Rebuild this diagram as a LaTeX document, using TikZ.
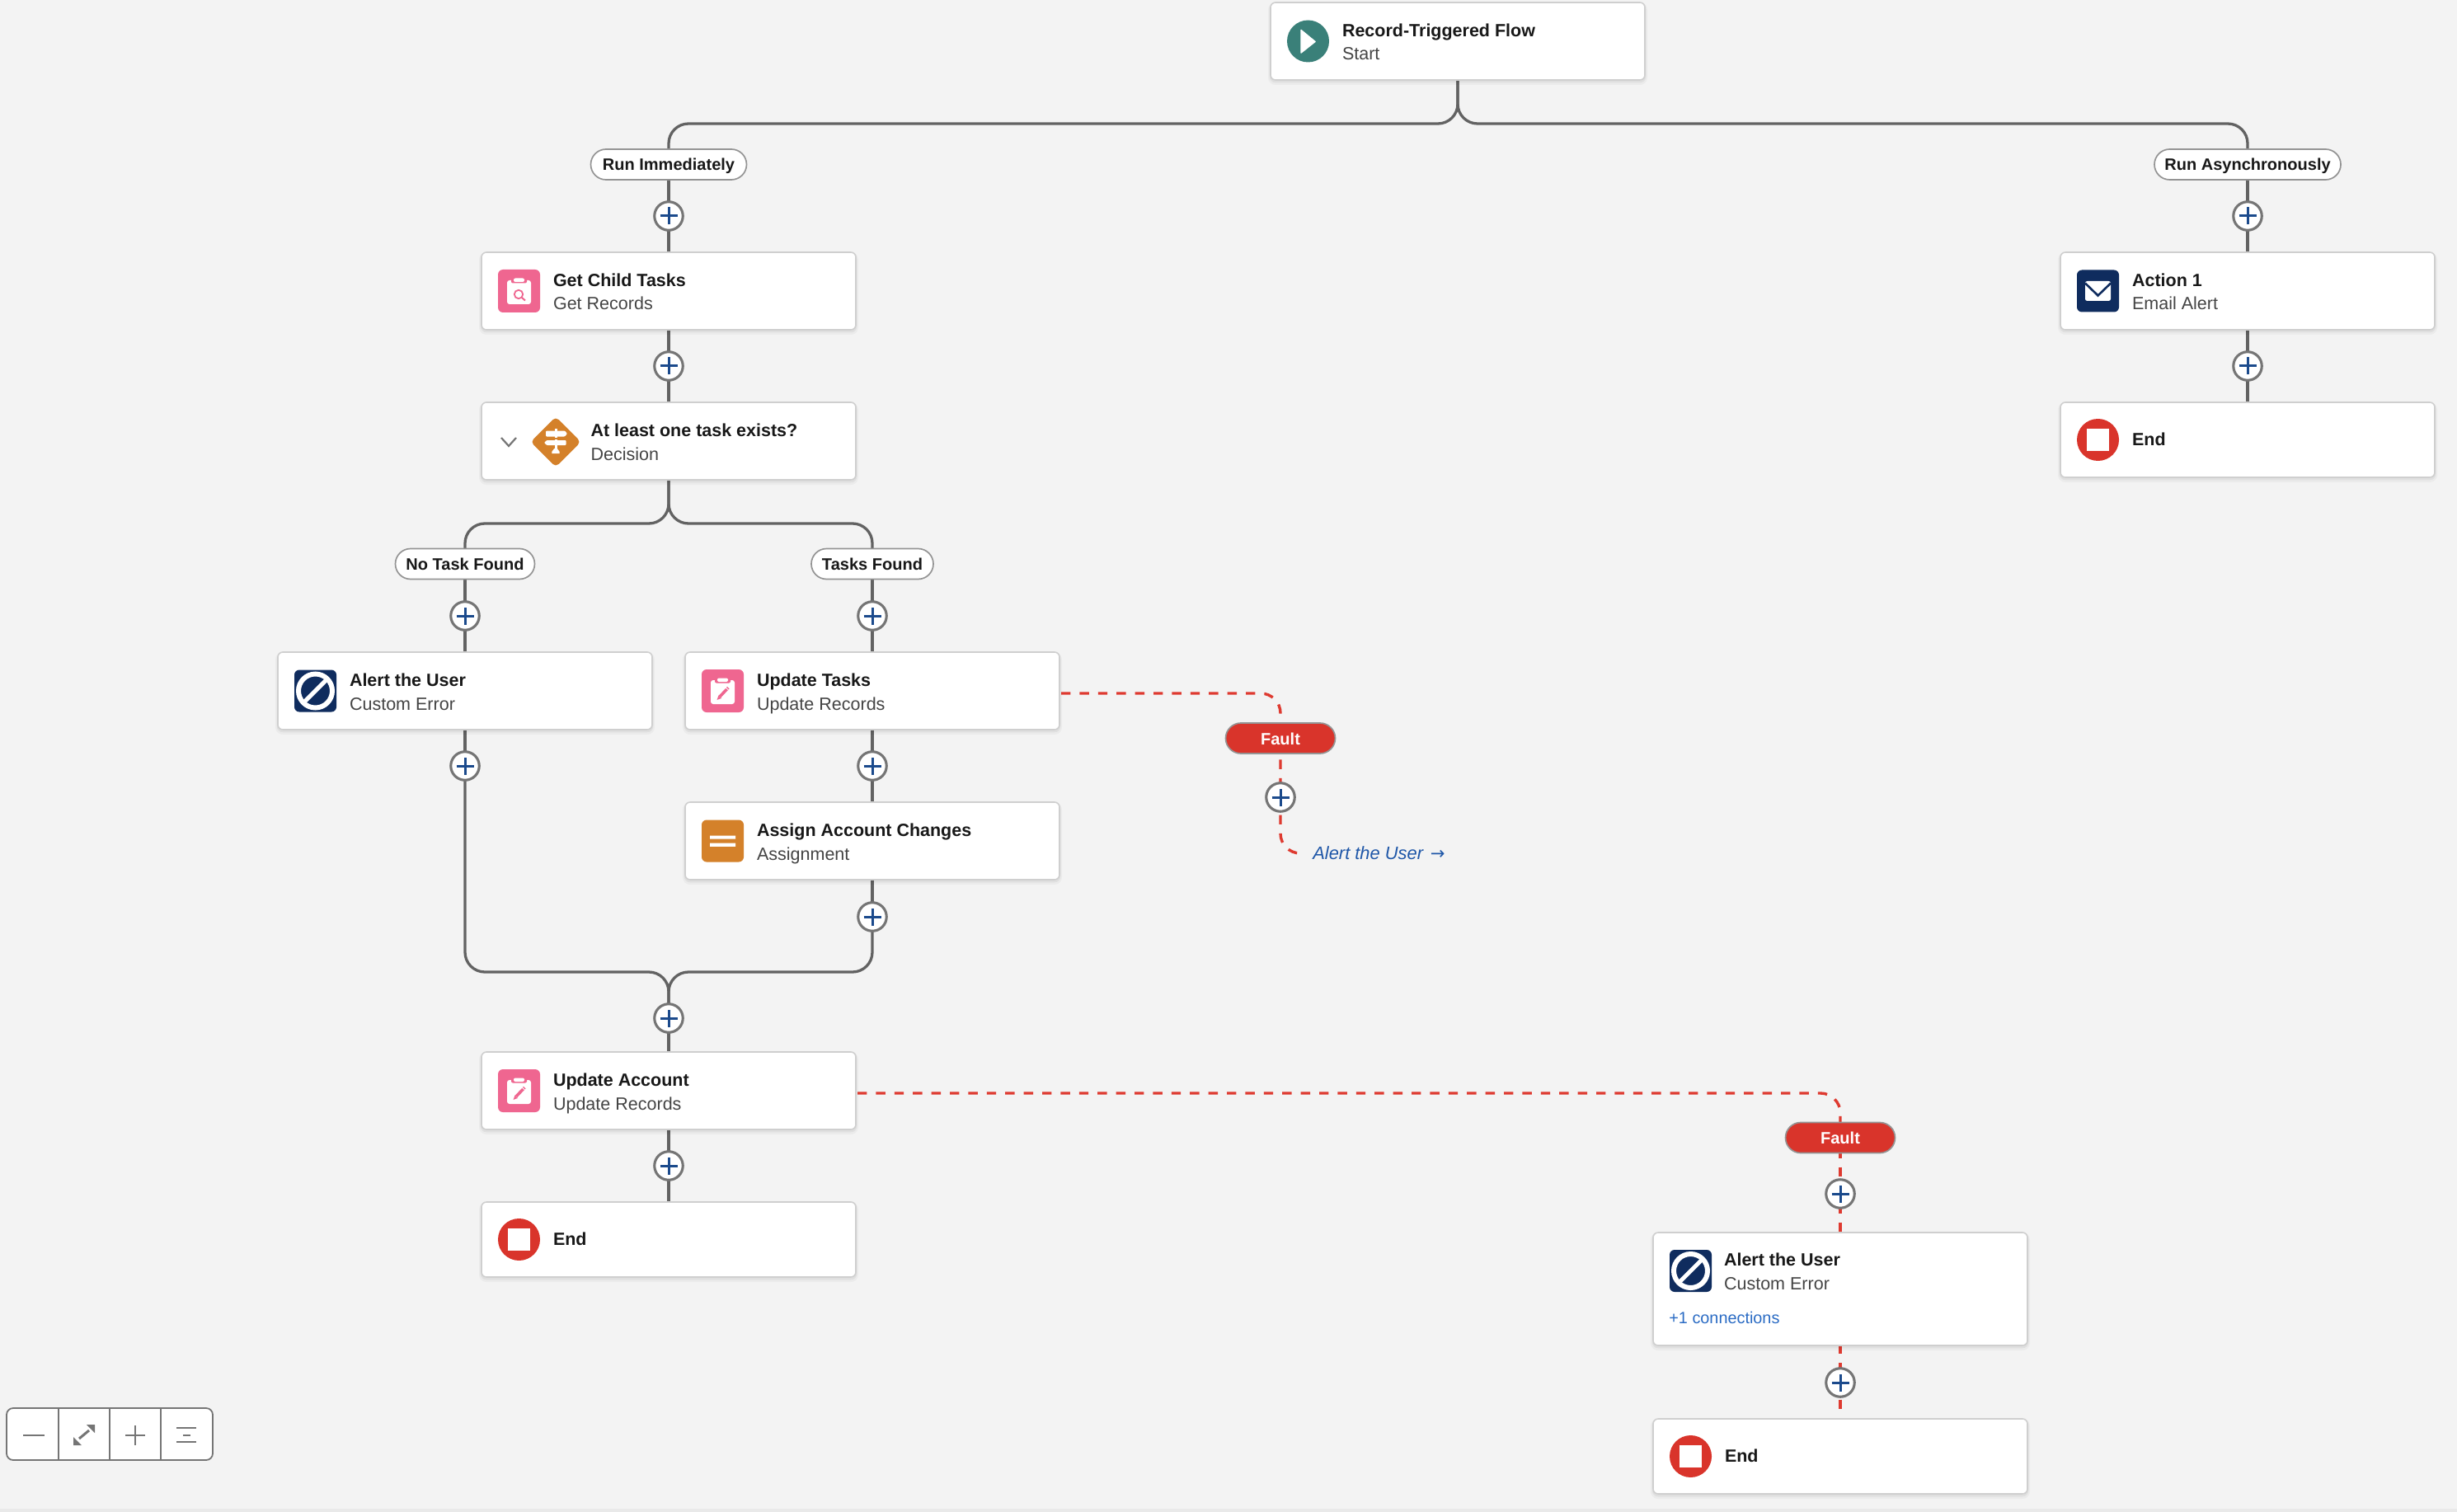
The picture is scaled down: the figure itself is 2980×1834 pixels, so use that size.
\documentclass[tikz,border=0pt]{standalone}
\usepackage{fontspec}
\setmainfont{Liberation Sans}
\newfontfamily\arrowfont{DejaVu Sans}
\usetikzlibrary{shadows}
\newdimen\upx \upx=0.02cm
\definecolor{canvasc}{HTML}{F3F3F3}
\definecolor{stripc}{HTML}{E9E9E9}
\definecolor{linec}{HTML}{626262}
\definecolor{ringc}{HTML}{757575}
\definecolor{plusc}{HTML}{1B4A8C}
\definecolor{redc}{HTML}{D9342B}
\definecolor{dashc}{HTML}{DE3A30}
\definecolor{pinkc}{HTML}{EF6690}
\definecolor{navyc}{HTML}{0F2C5E}
\definecolor{orangec}{HTML}{D4812A}
\definecolor{tealc}{HTML}{3A8079}
\definecolor{inkc}{HTML}{181818}
\definecolor{subc}{HTML}{444444}
\definecolor{linkc}{HTML}{2A6BC4}
\definecolor{italc}{HTML}{1F57A8}
\pgfdeclarelayer{canvaslayer}
\pgfdeclarelayer{connlayer}
\pgfsetlayers{canvaslayer,connlayer,main}
\tikzset{
  card/.style={rectangle,rounded corners=6\upx,draw=black!19,fill=white,line width=1.6\upx,
    minimum width=454\upx,inner sep=0pt,outer sep=0pt,
    general shadow={fill=none,draw=black,draw opacity=.03,line width=6\upx,shadow yshift=-3\upx},
    general shadow={fill=none,draw=black,draw opacity=.05,line width=2.5\upx,shadow yshift=-2\upx}},
  ttl/.style={anchor=base west,inner sep=0pt,outer sep=0pt,text=inkc,font=\fontsize{12.23pt}{15pt}\selectfont\bfseries},
  sbt/.style={anchor=base west,inner sep=0pt,outer sep=0pt,text=subc,font=\fontsize{12.25pt}{15pt}\selectfont},
  pill/.style={rectangle,rounded corners=18.5\upx,draw=black!42,fill=white,line width=1.7\upx,
    minimum height=37\upx,inner sep=0pt,outer sep=0pt,text=inkc,text height=15\upx,text depth=0pt,
    font=\fontsize{11.4pt}{14pt}\selectfont\bfseries},
  faultpill/.style={pill,fill=redc,text=white,minimum width=133\upx},
  plusnode/.style={circle,draw=ringc,fill=white,line width=3.1\upx,minimum size=34.5\upx,inner sep=0pt,outer sep=0pt,
    path picture={\draw[plusc,line width=3\upx]
      ([xshift=-10.5\upx]path picture bounding box.center) -- ([xshift=10.5\upx]path picture bounding box.center)
      ([yshift=-10.5\upx]path picture bounding box.center) -- ([yshift=10.5\upx]path picture bounding box.center);}},
  conn/.style={draw=linec,line width=3.3\upx,rounded corners=24\upx},
  faultconn/.style={draw=dashc,line width=3.4\upx,rounded corners=24\upx,dash pattern=on 11.4\upx off 11\upx},
  ctlbox/.style={rectangle,rounded corners=8\upx,draw=ringc,fill=white,line width=1.8\upx,inner sep=0pt,outer sep=0pt,
    minimum width=250\upx,minimum height=63\upx},
  ctlline/.style={draw=ringc,line width=1.8\upx},
  ctlicon/.style={draw=ringc,line width=2.6\upx},
}
% ---- icons: #1,#2 centre
\newcommand{\icoboard}[2]{%
  \begin{scope}[shift={({#1},{#2})}]
    \fill[pinkc,rounded corners=6\upx] (-25.5,-26) rectangle (25.5,26);
    \fill[white,rounded corners=3\upx] (-14.5,-13) rectangle (14.5,16);
    \fill[pinkc,rounded corners=2\upx] (-9.5,-17) rectangle (9.5,-9.5);
    \fill[white,rounded corners=2\upx] (-6.5,-15.5) rectangle (6.5,-11);
  \end{scope}}
\newcommand{\iconget}[2]{\icoboard{#1}{#2}%
  \begin{scope}[shift={({#1},{#2})}]
    \draw[pinkc,line width=1.8\upx] (-0.5,4) circle (5.2);
    \draw[pinkc,line width=2\upx] (3.2,7.8) -- (7.5,11.5);
  \end{scope}}
\newcommand{\iconupd}[2]{\icoboard{#1}{#2}%
  \begin{scope}[shift={({#1},{#2})}]
    \draw[pinkc,line width=3.6\upx] (-3.5,7) -- (5,-2);
    \fill[pinkc] (-7,11) -- (-5,5.5) -- (-1.5,9) -- cycle;
    \draw[pinkc,line width=3.6\upx] (5.8,-2.8) -- (6.8,-3.8);
  \end{scope}}
\newcommand{\iconerr}[2]{%
  \begin{scope}[shift={({#1},{#2})}]
    \fill[navyc,rounded corners=6\upx] (-25.5,-25.5) rectangle (25.5,25.5);
    \draw[white,line width=6\upx] (0,0) circle (20.5);
    \draw[white,line width=5\upx] (-13.5,13.5) -- (13.5,-13.5);
  \end{scope}}
\newcommand{\iconmail}[2]{%
  \begin{scope}[shift={({#1},{#2})}]
    \fill[navyc,rounded corners=6\upx] (-25.5,-25.5) rectangle (25.5,25.5);
    \fill[white,rounded corners=2.5\upx] (-15.5,-12) rectangle (15.5,12);
    \draw[navyc,line width=2.6\upx] (-15.5,-9.5) -- (0,5.5) -- (15.5,-9.5);
  \end{scope}}
\newcommand{\iconassign}[2]{%
  \begin{scope}[shift={({#1},{#2})}]
    \fill[orangec,rounded corners=6\upx] (-25.5,-25.5) rectangle (25.5,25.5);
    \fill[white] (-15.5,-6.5) rectangle (15.5,-2.3) (-15.5,2.7) rectangle (15.5,6.9);
  \end{scope}}
\newcommand{\iconstart}[2]{%
  \begin{scope}[shift={({#1},{#2})}]
    \fill[tealc] (0,0) circle (25.5);
    \fill[white,draw=white,line width=1.5\upx,line join=round] (-8.5,-13.5) -- (8.5,0.5) -- (-8.5,14) -- cycle;
  \end{scope}}
\newcommand{\iconstop}[2]{%
  \begin{scope}[shift={({#1},{#2})}]
    \fill[redc] (0,0) circle (25.5);
    \fill[white] (-13.5,-13.5) rectangle (13.5,13.5);
  \end{scope}}
\newcommand{\icondec}[2]{%
  \begin{scope}[shift={({#1},{#2})}]
    \fill[orangec,rounded corners=5\upx] (-30.5,0) -- (0,-30.5) -- (30.5,0) -- (0,30.5) -- cycle;
    \fill[white,rounded corners=1\upx] (-12,-13.5) -- (11,-13.5) -- (14,-10) -- (11,-6.5) -- (-12,-6.5) -- cycle;
    \fill[white,rounded corners=1\upx] (-11,-2) -- (12.5,-2) -- (12.5,4) -- (-11,4) -- (-14,1) -- cycle;
    \fill[white] (-1.5,-16) rectangle (1.5,12);
    \fill[white] (-1.8,8) -- (1.8,8) -- (4.7,12) -- (4.7,14) -- (-4.7,14) -- (-4.7,12) -- cycle;
    \draw[orangec,line width=.8\upx] (-12,-5) -- (11,-5) (-11,-3.3) -- (12,-3.3);
  \end{scope}}
% ---- card: name, centre x, top, icon, title, subtitle
\newcommand{\flowcard}[6]{%
  \node[card,minimum height=94\upx] (#1) at ({#2},{#3+47}) {};
  #4{#2-181.5}{#3+47}
  \node[ttl] (#1-title) at ({#2-140},{#3+41.5}) {#5};
  \node[sbt] (#1-sub) at ({#2-140},{#3+70}) {#6};}
% ---- end card: name, centre x, top, height
\newcommand{\stopcard}[4]{%
  \node[card,minimum height=#4\upx] (#1) at ({#2},{#3+#4/2}) {};
  \iconstop{#2-181.5}{#3+#4/2}
  \node[ttl] (#1-title) at ({#2-140},{#3+#4/2+6.5}) {End};}
\begin{document}
\begin{tikzpicture}[x=0.02cm,y=-0.02cm]
\useasboundingbox (0,0) rectangle (2980,1834);
\begin{pgfonlayer}{canvaslayer}
  \fill[canvasc] (0,0) rectangle (2980,1834);
  \fill[stripc] (0,1830) rectangle (2980,1834);
\end{pgfonlayer}
% bus coordinates
\coordinate (busTop) at (0,150);
\coordinate (busDec) at (0,635);
\coordinate (busMerge) at (0,1179);
\coordinate (merge) at (811,1179);
\coordinate (faultA) at (1287,841);
\coordinate (faultAend) at (1575,1035);
\coordinate (faultAbend) at (1553,1035);
\coordinate (faultB) at (1040,1326);
% cards
\flowcard{start}{1768}{3}{\iconstart}{Record-Triggered Flow}{Start}
\flowcard{get}{811}{306}{\iconget}{Get Child Tasks}{Get Records}
\node[card,minimum height=94\upx] (dec) at (811,535) {};
\draw[ringc,line width=2.2\upx] (608,531) -- (617,541) -- (626,531);
\icondec{674}{536}
\node[ttl] (dec-title) at (716.5,529.5) {At least one task exists?};
\node[sbt] (dec-sub) at (716.5,558) {Decision};
\flowcard{alertA}{564}{791}{\iconerr}{Alert the User}{Custom Error}
\flowcard{upd}{1058}{791}{\iconupd}{Update Tasks}{Update Records}
\flowcard{asg}{1058}{973}{\iconassign}{Assign Account Changes}{Assignment}
\flowcard{acc}{811}{1276}{\iconupd}{Update Account}{Update Records}
\stopcard{endA}{811}{1458}{91}
\flowcard{act}{2726}{306}{\iconmail}{Action 1}{Email Alert}
\stopcard{endB}{2726}{488}{91}
\node[card,minimum height=137\upx] (alertB) at (2232,1563.5) {};
\iconerr{2050.5}{1541.5}
\node[ttl] (alertB-title) at (2091,1535.5) {Alert the User};
\node[sbt] (alertB-sub) at (2091,1564.5) {Custom Error};
\node[anchor=base west,inner sep=0pt,text=linkc,font=\fontsize{11.3pt}{13pt}\selectfont] (alertB-link) at (2024,1605.5) {+1 connections};
\stopcard{endC}{2232}{1721}{91}
% pills
\node[pill,minimum width=189\upx] (ri) at (811,199.5) {Run Immediately};
\node[pill,minimum width=226\upx] (ra) at (2726,199.5) {Run Asynchronously};
\node[pill,minimum width=169\upx] (nt) at (564,684) {No Task Found};
\node[pill,minimum width=148\upx] (tf) at (1058,684) {Tasks Found};
\node[faultpill] (fa) at (1553,895.5) {Fault};
\node[faultpill] (fb) at (2232,1380) {Fault};
% plus nodes
\node[plusnode] (p1) at (811,262) {};
\node[plusnode] (p2) at (811,444) {};
\node[plusnode] (p3) at (564,747) {};
\node[plusnode] (p4) at (1058,747) {};
\node[plusnode] (p5) at (564,929) {};
\node[plusnode] (p6) at (1058,929) {};
\node[plusnode] (p7) at (1058,1112) {};
\node[plusnode] (p8) at (811,1235) {};
\node[plusnode] (p9) at (811,1414) {};
\node[plusnode] (p10) at (2726,262) {};
\node[plusnode] (p11) at (2726,444) {};
\node[plusnode] (p12) at (1553,967) {};
\node[plusnode] (p13) at (2232,1448) {};
\node[plusnode] (p14) at (2232,1677) {};
\node[anchor=base west,inner sep=0pt,text=italc,font=\fontsize{12.45pt}{15pt}\selectfont\itshape] (faultlink) at (1592,1042) {Alert the User\hspace{5pt}{\arrowfont\upshape\mdseries\fontsize{12pt}{13pt}\selectfont →}};
% connectors
\begin{pgfonlayer}{connlayer}
  \draw[conn] (start.south) -- (start.south |- busTop) -- (ri.north |- busTop) -- (ri.north);
  \draw[conn] (start.south) -- (start.south |- busTop) -- (ra.north |- busTop) -- (ra.north);
  \draw[conn] (ri.south) -- (p1) -- (get.north);
  \draw[conn] (get.south) -- (p2) -- (dec.north);
  \draw[conn] (dec.south) -- (dec.south |- busDec) -- (nt.north |- busDec) -- (nt.north);
  \draw[conn] (dec.south) -- (dec.south |- busDec) -- (tf.north |- busDec) -- (tf.north);
  \draw[conn] (nt.south) -- (p3) -- (alertA.north);
  \draw[conn] (tf.south) -- (p4) -- (upd.north);
  \draw[conn] (alertA.south) -- (p5);
  \draw[conn] (p5) -- (p5 |- busMerge) -- (merge) -- (p8);
  \draw[conn] (upd.south) -- (p6) -- (asg.north);
  \draw[conn] (asg.south) -- (p7);
  \draw[conn] (p7) -- (p7 |- busMerge) -- (merge) -- (p8);
  \draw[conn] (p8) -- (acc.north);
  \draw[conn] (acc.south) -- (p9) -- (endA.north);
  \draw[conn] (ra.south) -- (p10) -- (act.north);
  \draw[conn] (act.south) -- (p11) -- (endB.north);
  \draw[faultconn] (faultA) -- (fa |- faultA) -- (faultAbend) -- (faultAend);
  \draw[faultconn] (faultB) -- (fb |- faultB) -- (fb.north);
  \draw[faultconn,dash phase=5.4\upx] (fb.south) -- (alertB.north);
  \draw[faultconn,dash phase=1.4\upx] (alertB.south) -- (endC.north);
\end{pgfonlayer}
% zoom control
\node[ctlbox] (ctl) at (133,1739.5) {};
\draw[ctlline] (71,1708) -- (71,1771) (133,1708) -- (133,1771) (195,1708) -- (195,1771);
\draw[ctlicon] (28,1741) -- (54,1741);
\draw[ctlicon,line width=3\upx] (96,1745) -- (108,1735);
\fill[ringc] (89,1753) -- (89,1743) -- (99,1753) -- cycle;
\fill[ringc] (115,1728) -- (105,1728) -- (115,1738) -- cycle;
\draw[ctlicon] (152,1741) -- (176,1741) (164,1729) -- (164,1753);
\draw[ctlicon] (214,1732) -- (238,1732) (222,1741) -- (231,1741) (214,1749) -- (238,1749);
\end{tikzpicture}
\end{document}
